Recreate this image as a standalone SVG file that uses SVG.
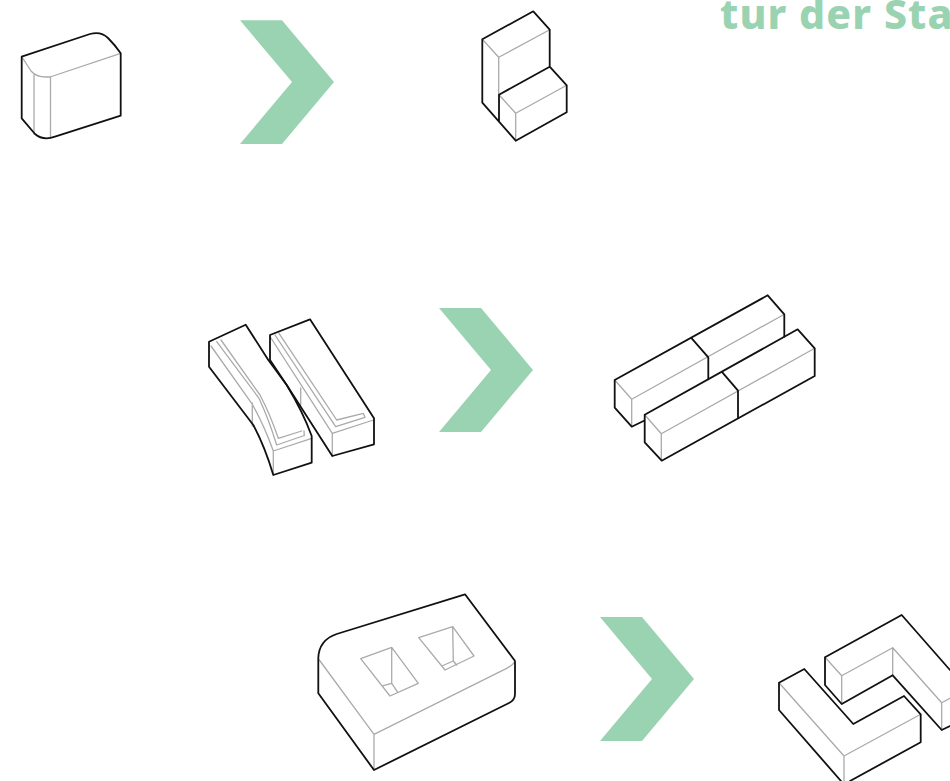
<svg xmlns="http://www.w3.org/2000/svg" width="950" height="781" viewBox="0 0 950 781">
<style>
.b{fill:none;stroke:#111;stroke-width:1.8;stroke-linejoin:round;stroke-linecap:round}
.g{fill:none;stroke:#aaa;stroke-width:1.3;stroke-linejoin:round;stroke-linecap:round}
.c{fill:#9ad3b1}
.t{fill:#9ad3b1;font-family:"Noto Sans","Open Sans",sans-serif;font-weight:800;font-size:41px;letter-spacing:1.1px}
</style>
<rect width="950" height="781" fill="#fff"/>
<text class="t" x="720" y="29">tur der Sta</text>
<g id="arrow-1"><polygon class="c" points="240,20.3 282,20.3 334,82 282,144 240,144 292,82"/></g>
<g id="arrow-2"><polygon class="c" points="439,308 481,308 533,370 481,432 439,432 491,370"/></g>
<g id="arrow-3"><polygon class="c" points="600,617 642,617 694,679 642,741 600,741 652,679"/></g>
<g id="block-1">
<path class="g" d="M21.7 56.7L31 71Q36 77 46 77L50 77L120.7 53.3M34 75V134M50.5 77V137"/>
<path class="b" d="M21.7 56.7L90 34Q101 31 108 38Q115 45 120.7 53.3V115.7L55 136.7Q43 141 35 134L21.7 118.3Z"/>
</g>
<g id="block-2">
<path class="g" d="M482.3 39.3L498.7 57.3L549.7 29.7M498.7 57.3V94.7M499 94.7L515.7 113.3L566.7 85.3M515.7 113.3V140.7"/>
<path class="b" d="M482.3 39.3L533.3 11.3L549.7 29.7V66.7L566.7 85.3V112.3L515.7 140.7L482.3 102.7ZM549.7 66.7L499 94.7V121.7"/>
</g>
<g id="block-3">
<path class="g" d="M211 346L251.7 403.3Q264 425 273.3 451L311.7 438.3M273.3 451V474M216.7 341.7L259 398.3Q269 420 276.7 445L304.3 435.5L304 431M221 340L260 395Q270 414 278.3 438.3L301.7 431M252.3 403V426"/>
<path class="g" d="M270.3 337L332.3 433.3L373.5 420M332.3 433.3V456M275 335L335.7 426.7L365 417.3L363.3 413.3M279 333.3L336.7 420L363.3 413.3M300.7 388V405"/>
<path class="b" d="M209 341.7L245.7 324.7L268.3 360L286.7 385Q303 412 311.7 436V462.7L273.3 475Q265 447 253.3 425L209 366.7Z"/>
<path class="b" d="M270 335L310 319.3L374 418.3V444.3L332.3 456L286.7 385L270 360Z"/>
</g>
<g id="block-4">
<path class="g" d="M614.7 380L631.7 399.3L784.3 314.3M631.7 399.3V426.7M644.7 414.7L661.3 433.7L814.7 348.3M661.3 433.7V460.7"/>
<path class="b" d="M784.3 336.7V314.3L767.7 295.3L614.7 380V407.7L631.7 426.7L644 420.7M691.7 338.3L708.3 357.3V379.3"/>
<path class="b" d="M644.7 414.7L797.7 329.3L814.7 348.3V376L661.7 460.7L644.7 442.3ZM721.7 371.7L738 390.7V418"/>
</g>
<g id="block-5">
<path class="g" d="M319.3 660L374 734.3L506.7 668.3Q513 665 514.3 662M374 734.3V770"/>
<path class="g" d="M360.7 658.7L391.7 647.3L418.3 683.3L390 696ZM391.7 647.3V683.3L383.3 685.7M391.7 683.3L397.3 691.7"/>
<path class="g" d="M418.7 637.7L452.7 626.7L474 656L445 670ZM452.7 626.7L453.3 661L441.7 666M453.3 661L456.7 665"/>
<path class="b" d="M465 594.3L336.7 634Q319 640 318.3 658V693.3L374 770L509 703Q515 700 515 694V662Q515 660 514.3 660Z"/>
</g>
<g id="block-6">
<path class="g" d="M825 657.3L841.7 675.7L892.7 647.7L941.7 702.7L950 698.3M841.7 675.7V704M892.7 647.7V675.3M941.7 702.7V730"/>
<path class="g" d="M779 682.7L844 756L920.7 714.3M844 756V781"/>
<path class="b" d="M950 670L901.7 615L825 657.3V685L841.7 704L892.7 675.3L941.7 730L950 726"/>
<path class="b" d="M841 781L779 710V682.7L804.3 669L853.3 724L904 696L920.7 714.3V742.3L850 781"/>
</g>
</svg>
